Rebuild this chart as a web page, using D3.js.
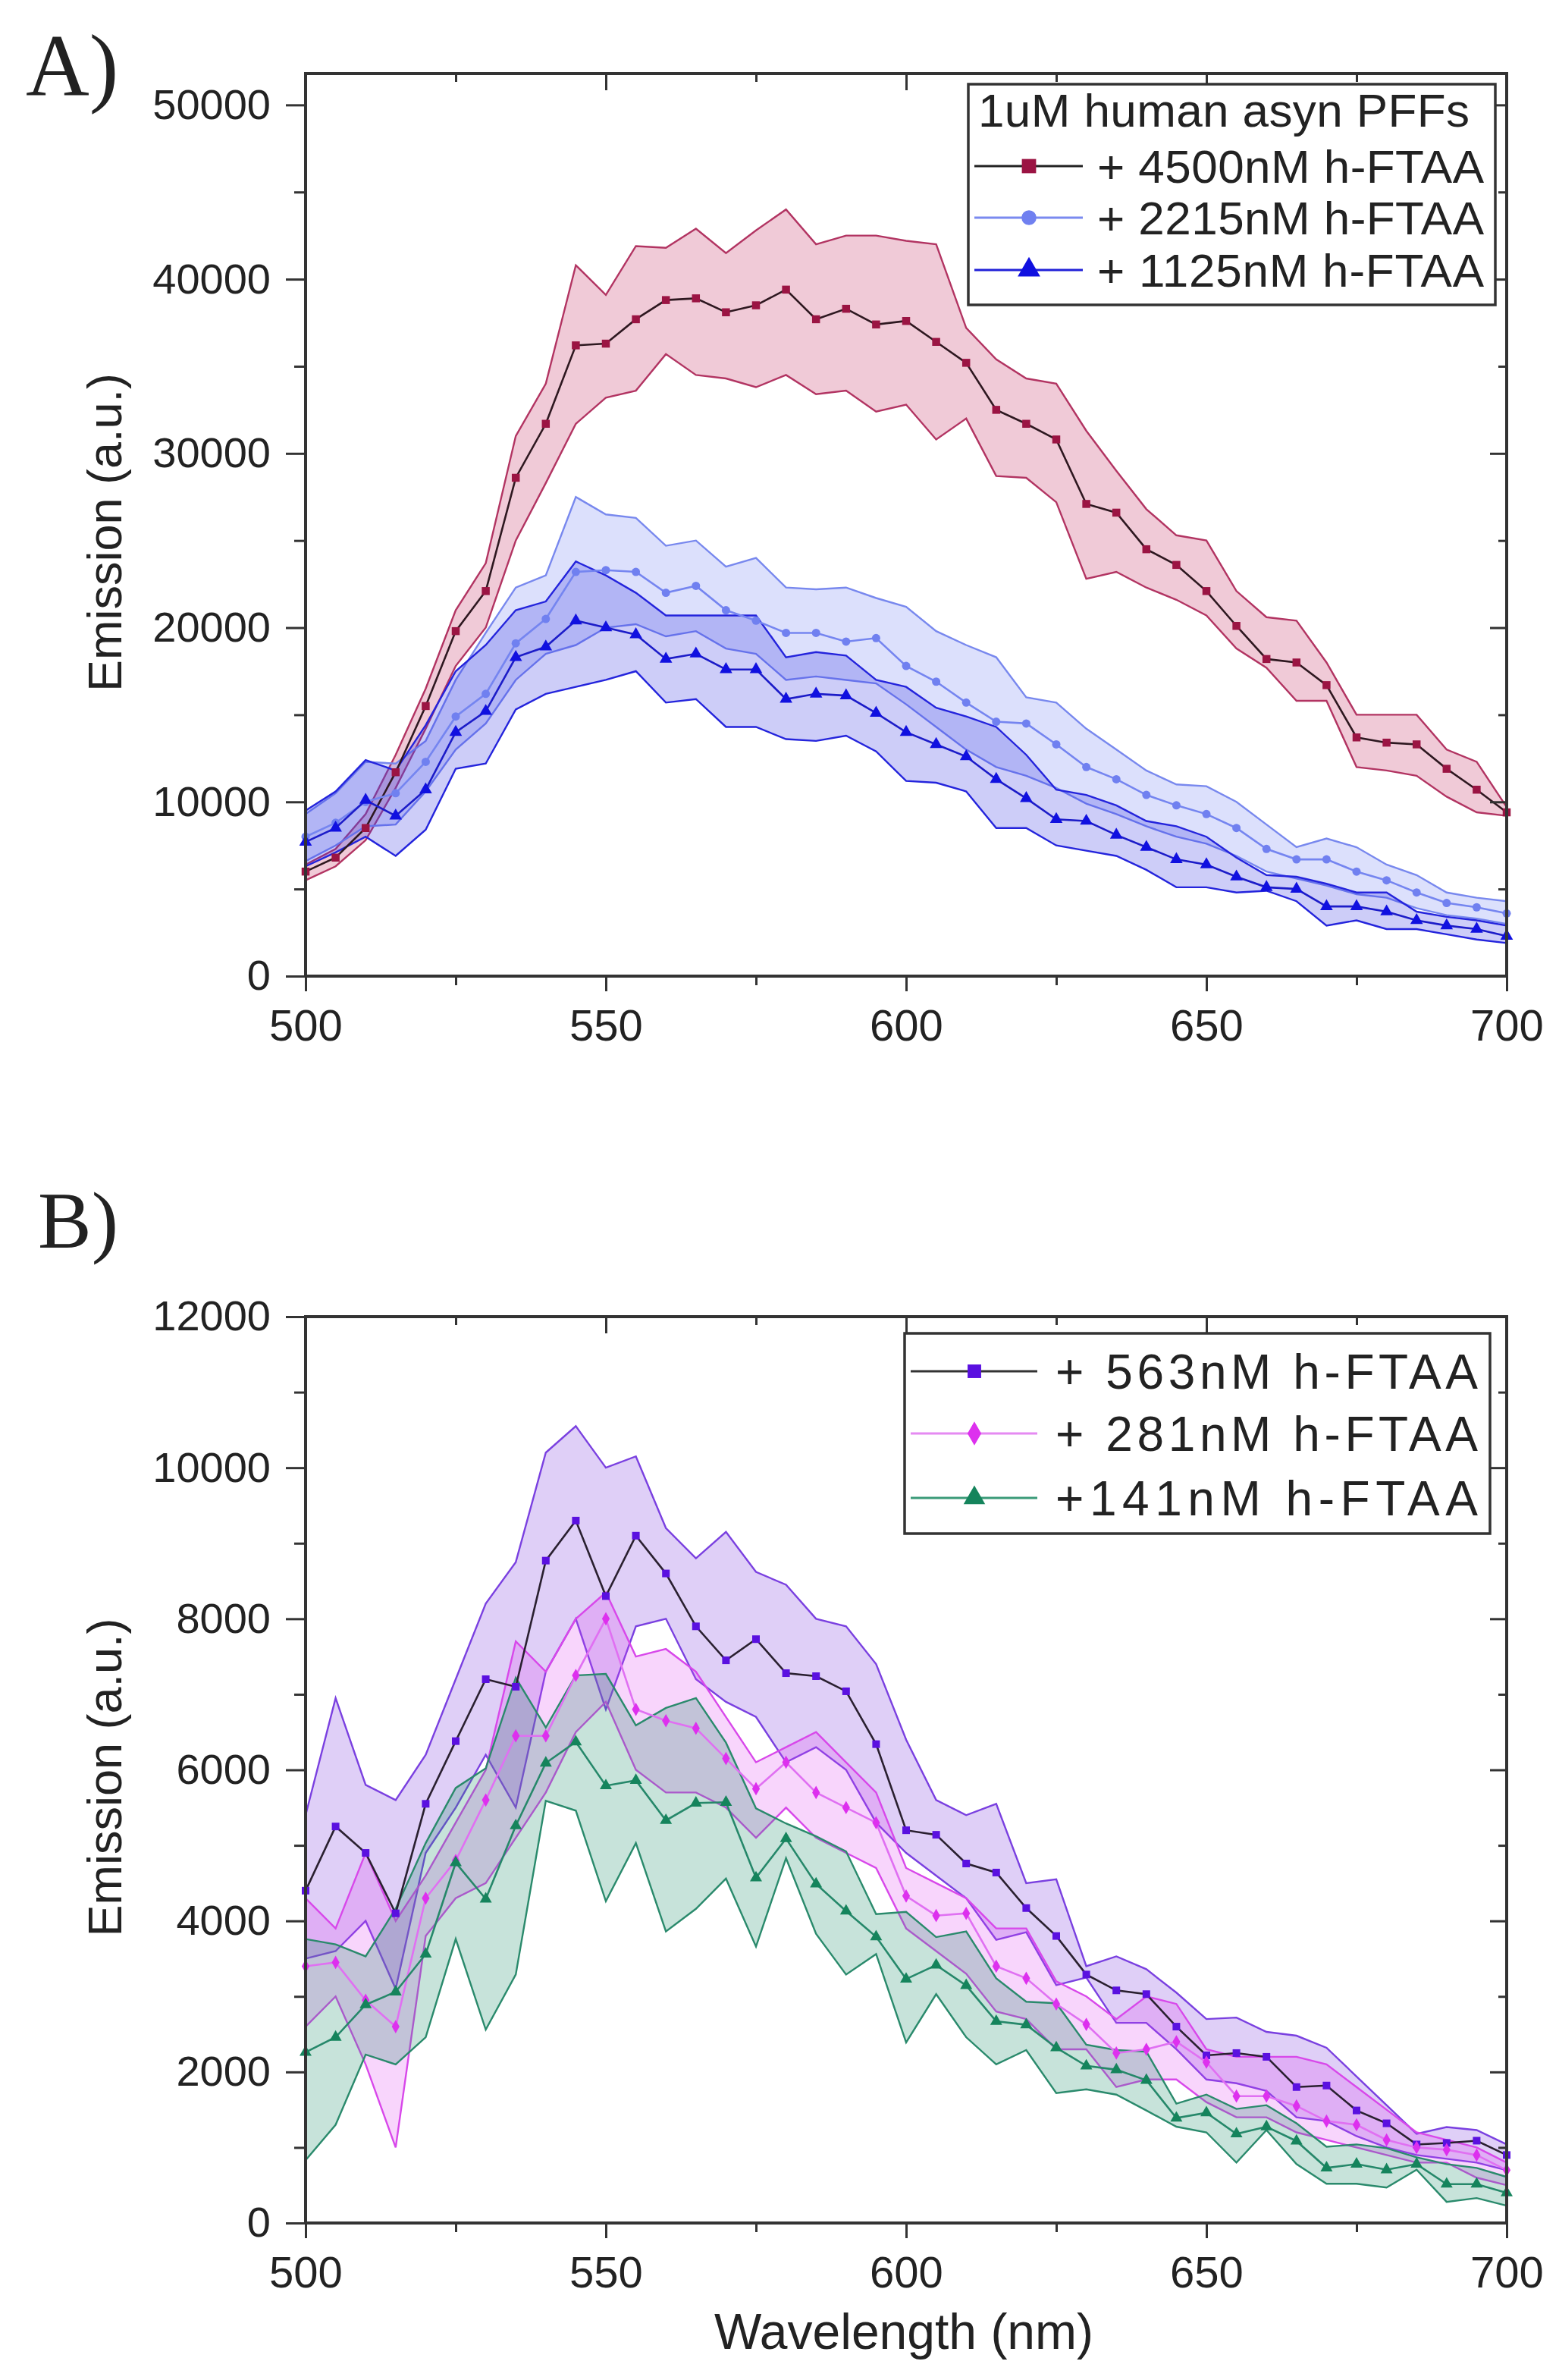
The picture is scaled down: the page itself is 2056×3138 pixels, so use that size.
<!DOCTYPE html>
<html>
<head>
<meta charset="utf-8">
<script src="https://cdnjs.cloudflare.com/ajax/libs/d3/7.8.5/d3.min.js"></script>
<style>
  body { margin: 0; background: #fff; }
  svg { display: block; }
  text { font-family: "Liberation Sans", Arial, sans-serif; fill: #222; }
</style>
</head>
<body>
<div id="chart"></div>
<script>
// wavelength (nm), shared by every series
const wavelength = [500, 505, 510, 515, 520, 525, 530, 535, 540, 545, 550, 555, 560, 565, 570, 575, 580, 585, 590, 595,
  600, 605, 610, 615, 620, 625, 630, 635, 640, 645, 650, 655, 660, 665, 670, 675, 680, 685, 690, 695, 700]

// panel A : 1uM human asyn PFFs
const a4500Mean = [6000, 6800, 8500, 11700, 15500, 19800, 22100, 28600, 31700, 36200, 36300, 37700, 38800, 38900, 38100, 38500, 39400, 37700, 38300, 37400,
  37600, 36400, 35200, 32500, 31700, 30800, 27100, 26600, 24500, 23600, 22100, 20100, 18200, 18000, 16700, 13700, 13400, 13300, 11900, 10700, 9400]
const a4500Upper = [6400, 7300, 9300, 12700, 16500, 21000, 23700, 31000, 34000, 40800, 39100, 41900, 41800, 42900, 41500, 42800, 44000, 42000, 42500, 42500,
  42200, 42000, 37200, 35400, 34300, 34000, 31300, 29000, 26800, 25300, 25000, 22100, 20600, 20400, 18000, 15000, 15000, 15000, 13000, 12300, 9700]
const a4500Lower = [5500, 6300, 7800, 10800, 14200, 17800, 20000, 25000, 28300, 31700, 33200, 33600, 35700, 34500, 34300, 33800, 34500, 33400, 33600, 32400,
  32800, 30800, 32000, 28700, 28600, 27200, 22800, 23200, 22300, 21600, 20700, 18800, 17700, 15800, 15800, 12000, 11800, 11500, 10300, 9400, 9200]

const a2215Mean = [8000, 8800, 10000, 10500, 12300, 14900, 16200, 19100, 20500, 23200, 23300, 23200, 22000, 22400, 21000, 20400, 19700, 19700, 19200, 19400,
  17800, 16900, 15700, 14600, 14500, 13300, 12000, 11300, 10400, 9800, 9300, 8500, 7300, 6700, 6700, 6000, 5500, 4800, 4200, 3950, 3600]
const a2215Upper = [9300, 10500, 12300, 12200, 13500, 17000, 19700, 22300, 23000, 27500, 26500, 26300, 24700, 25000, 23500, 24000, 22300, 22200, 22300, 21700,
  21200, 19800, 19000, 18300, 16000, 15700, 14200, 13000, 11800, 11000, 10900, 10000, 8700, 7400, 7900, 7400, 6400, 5800, 4800, 4500, 4300]
const a2215Lower = [6600, 7500, 8600, 8700, 10600, 13000, 14500, 17000, 18500, 19000, 20000, 20200, 19500, 19800, 18800, 18500, 17000, 17200, 17000, 16800,
  15600, 14300, 13000, 12000, 11500, 10800, 9900, 9300, 8600, 8000, 7600, 6900, 6000, 5600, 5200, 4700, 4500, 3900, 3500, 3300, 3000]

const a1125Mean = [7700, 8500, 10100, 9200, 10700, 14000, 15200, 18300, 18900, 20400, 20000, 19600, 18200, 18500, 17600, 17600, 15900, 16200, 16100, 15100,
  14000, 13300, 12600, 11300, 10200, 9000, 8900, 8100, 7400, 6700, 6400, 5700, 5100, 5000, 4000, 4000, 3700, 3200, 2900, 2700, 2300]
const a1125Upper = [9500, 10600, 12400, 11800, 14400, 17500, 19000, 21000, 21500, 23800, 23000, 22000, 20700, 20700, 20700, 20700, 18300, 18600, 18400, 17000,
  16600, 15400, 14900, 14300, 12700, 10700, 10400, 9800, 8900, 8600, 8000, 6800, 5800, 5700, 5300, 4800, 4800, 3700, 3400, 3200, 2900]
const a1125Lower = [6300, 7100, 8000, 6900, 8400, 11900, 12200, 15300, 16200, 16600, 17000, 17500, 15700, 15900, 14300, 14300, 13600, 13500, 13800, 12900,
  11200, 11100, 10600, 8500, 8500, 7500, 7200, 6900, 6100, 5100, 5100, 4800, 4900, 4300, 2900, 3200, 2700, 2700, 2400, 2100, 1900]

// panel B
const b563Mean = [4400, 5250, 4900, 4100, 5550, 6380, 7200, 7100, 8770, 9300, 8300, 9100, 8600, 7900, 7450, 7730, 7280, 7240, 7040, 6340,
  5200, 5140, 4760, 4640, 4170, 3800, 3290, 3080, 3030, 2600, 2220, 2250, 2200, 1800, 1820, 1490, 1320, 1040, 1060, 1090, 900]
const b563Upper = [5400, 6950, 5800, 5600, 6200, 7200, 8200, 8750, 10200, 10550, 10000, 10150, 9200, 8800, 9150, 8620, 8450, 8000, 7900, 7400,
  6400, 5600, 5400, 5550, 4500, 4550, 3400, 3530, 3360, 3050, 2700, 2720, 2530, 2480, 2320, 1940, 1560, 1180, 1270, 1230, 1040]
const b563Lower = [3500, 3600, 4000, 3100, 4900, 5500, 6200, 5500, 7300, 8000, 6800, 7900, 8000, 7200, 6900, 6700, 6100, 6300, 6000, 5300,
  4900, 4600, 4300, 3750, 3850, 3150, 3250, 2650, 2650, 2300, 1900, 1850, 1750, 1400, 1350, 1150, 1000, 900, 850, 800, 700]

const b281Mean = [3400, 3450, 2950, 2600, 4300, 4800, 5600, 6450, 6450, 7250, 8000, 6800, 6650, 6550, 6150, 5750, 6100, 5700, 5500, 5300,
  4330, 4070, 4100, 3400, 3240, 2900, 2630, 2250, 2300, 2400, 2130, 1680, 1680, 1550, 1350, 1300, 1100, 1000, 970, 900, 700]
const b281Upper = [4300, 3900, 4900, 4000, 4600, 5300, 6000, 7700, 7300, 8000, 8350, 7500, 7600, 7300, 6700, 6100, 6300, 6500, 6100, 5700,
  4700, 4500, 4300, 3900, 3900, 3200, 3000, 2700, 3000, 2900, 2300, 2200, 2200, 2200, 2100, 1800, 1500, 1200, 1100, 1000, 800]
const b281Lower = [2600, 3000, 2100, 1000, 3800, 4300, 4500, 5100, 5700, 6500, 6900, 6000, 5700, 5700, 5500, 5100, 5500, 5100, 4900, 4700,
  3900, 3600, 3300, 2800, 2700, 2300, 2300, 1800, 1900, 1900, 1600, 1400, 1400, 1200, 1100, 1000, 900, 800, 800, 600, 500]

const b141Mean = [2260, 2460, 2890, 3060, 3560, 4770, 4290, 5260, 6090, 6370, 5790, 5860, 5330, 5560, 5570, 4570, 5090, 4490, 4130, 3790,
  3230, 3415, 3145, 2670, 2625, 2320, 2080, 2030, 1890, 1390, 1460, 1180, 1275, 1085, 730, 780, 705, 780, 515, 515, 400]
const b141Upper = [3760, 3690, 3530, 4160, 5030, 5760, 6020, 7220, 6560, 7250, 7270, 6590, 6820, 6950, 6360, 5490, 5290, 5120, 4920, 4090,
  4120, 3785, 3860, 3240, 2930, 2910, 2360, 2290, 2270, 1580, 1700, 1510, 1560, 1320, 1010, 1040, 990, 870, 780, 730, 610]
const b141Lower = [830, 1300, 2230, 2100, 2460, 3760, 2560, 3290, 5590, 5460, 4260, 5030, 3860, 4160, 4560, 3660, 4830, 3830, 3290, 3560,
  2390, 3030, 2460, 2100, 2290, 1720, 1770, 1700, 1490, 1275, 1200, 800, 1230, 780, 520, 520, 470, 705, 280, 330, 230]

const xMajor = [500, 550, 600, 650, 700]
const xMinor = [525, 575, 625, 675]
const aYMajor = [0, 10000, 20000, 30000, 40000, 50000]
const aYMinor = [5000, 15000, 25000, 35000, 45000]
const bYMajor = [0, 2000, 4000, 6000, 8000, 10000, 12000]
const bYMinor = [1000, 3000, 5000, 7000, 9000, 11000]

const aLegendTitle = "1uM human asyn PFFs"
const aLabels = ["+ 4500nM h-FTAA", "+ 2215nM h-FTAA", "+ 1125nM h-FTAA"]
const bLabels = ["+ 563nM h-FTAA", "+ 281nM h-FTAA", "+141nM  h-FTAA"]

const W = 2056, H = 3138

let svg = d3.select("#chart").append("svg")
  .attr("width", W)
  .attr("height", H)
svg.append("rect").attr("width", W).attr("height", H).attr("fill", "#fff")

function drawPanel(p) {
  let g = svg.append("g")
  let x = d3.scaleLinear().domain([500, 700]).range([p.left, p.right])
  let y = d3.scaleLinear().domain([0, p.yMax]).range([p.bottom, p.top])

  // shaded bands first
  p.series.forEach(function(s) {
    let rows = wavelength.map(function(w, i) { return {w: w, m: s.mean[i], hi: s.upper[i], lo: s.lower[i]} })
    let area = d3.area()
      .x(function(d) { return x(d.w) })
      .y0(function(d) { return y(d.lo) })
      .y1(function(d) { return y(d.hi) })
    g.append("path").datum(rows)
      .attr("d", area)
      .attr("fill", s.fill)
      .attr("fill-opacity", s.fillOpacity)
    let edge = d3.line().x(function(d) { return x(d.w) })
    g.append("path").datum(rows)
      .attr("d", edge.y(function(d) { return y(d.hi) }))
      .attr("fill", "none").attr("stroke", s.edge).attr("stroke-width", 2.4)
    g.append("path").datum(rows)
      .attr("d", d3.line().x(function(d) { return x(d.w) }).y(function(d) { return y(d.lo) }))
      .attr("fill", "none").attr("stroke", s.edge).attr("stroke-width", 2.4)
    s.rows = rows
  })

  // mean lines + markers
  p.series.forEach(function(s) {
    g.append("path").datum(s.rows)
      .attr("d", d3.line().x(function(d) { return x(d.w) }).y(function(d) { return y(d.m) }))
      .attr("fill", "none")
      .attr("stroke", s.line)
      .attr("stroke-width", 2.6)
    g.selectAll(null)
      .data(s.rows)
      .enter().append("path")
      .attr("transform", function(d) { return "translate(" + x(d.w) + "," + y(d.m) + ")" })
      .attr("d", d3.symbol().type(s.symbol).size(s.size))
      .attr("fill", s.marker)
  })

  // axes
  let fmt = d3.format("d")
  let axL = g.append("g").attr("transform", "translate(" + p.left + ",0)")
    .call(d3.axisLeft(y).tickValues(p.yMajor).tickSize(26).tickPadding(20).tickFormat(fmt))
  g.append("g").attr("transform", "translate(" + p.left + ",0)")
    .call(d3.axisLeft(y).tickValues(p.yMinor).tickSize(15).tickFormat(""))
  let axB = g.append("g").attr("transform", "translate(0," + p.bottom + ")")
    .call(d3.axisBottom(x).tickValues(xMajor).tickSize(20).tickPadding(24).tickFormat(fmt))
  g.append("g").attr("transform", "translate(0," + p.bottom + ")")
    .call(d3.axisBottom(x).tickValues(xMinor).tickSize(12).tickFormat(""))
  g.append("g").attr("transform", "translate(0," + p.top + ")")
    .call(d3.axisTop(x).tickValues(xMajor).tickSize(-22).tickFormat(""))
  g.append("g").attr("transform", "translate(0," + p.top + ")")
    .call(d3.axisTop(x).tickValues(xMinor).tickSize(-11).tickFormat(""))
  g.append("g").attr("transform", "translate(" + p.right + ",0)")
    .call(d3.axisRight(y).tickValues(p.yMajor).tickSize(-22).tickFormat(""))
  g.append("g").attr("transform", "translate(" + p.right + ",0)")
    .call(d3.axisRight(y).tickValues(p.yMinor).tickSize(-11).tickFormat(""))

  g.selectAll(".domain").remove()
  g.selectAll(".tick line").attr("stroke", "#333").attr("stroke-width", 3)
  axL.selectAll("text").style("font-size", "56px").attr("fill", "#222")
    .style("font-family", "'Liberation Sans', Arial, sans-serif")
  axB.selectAll("text").style("font-size", "58px").attr("fill", "#222")
    .style("font-family", "'Liberation Sans', Arial, sans-serif")

  g.append("rect")
    .attr("x", p.left).attr("y", p.top)
    .attr("width", p.right - p.left).attr("height", p.bottom - p.top)
    .attr("fill", "none").attr("stroke", "#333").attr("stroke-width", 4)

  // y title
  g.append("text")
    .attr("transform", "translate(160," + ((p.top + p.bottom) / 2 + 10) + ") rotate(-90)")
    .attr("text-anchor", "middle")
    .style("font-size", "63px")
    .text("Emission (a.u.)")

  // panel letter
  g.append("text")
    .attr("x", p.letterX).attr("y", p.letterY)
    .style("font-family", "'Liberation Serif', 'Times New Roman', serif")
    .style("font-size", p.letterSize + "px")
    .attr("fill", "#111")
    .text(p.letter)

  // legend
  let lg = p.legend
  g.append("rect")
    .attr("x", lg.x).attr("y", lg.y).attr("width", lg.w).attr("height", lg.h)
    .attr("fill", "#fff").attr("stroke", "#333").attr("stroke-width", 3.5)
  if (lg.title) {
    g.append("text")
      .attr("x", lg.titleX).attr("y", lg.titleY)
      .attr("textLength", lg.titleLen).attr("lengthAdjust", "spacing")
      .style("font-size", lg.font + "px")
      .text(lg.title)
  }
  p.series.forEach(function(s, i) {
    let cy = lg.rowY[i]
    g.append("line")
      .attr("x1", lg.lineX1).attr("x2", lg.lineX2)
      .attr("y1", cy).attr("y2", cy)
      .attr("stroke", s.legendLine).attr("stroke-width", 3)
    g.append("path")
      .attr("transform", "translate(" + lg.markX + "," + cy + ")")
      .attr("d", d3.symbol().type(s.symbol).size(s.size * 3.2))
      .attr("fill", s.marker)
    g.append("text")
      .attr("x", lg.textX).attr("y", cy + lg.font * 0.36)
      .attr("textLength", lg.textLen).attr("lengthAdjust", "spacing")
      .style("font-size", lg.font + "px")
      .text(lg.labels[i])
  })
}

drawPanel({
  left: 403, right: 1987, top: 97, bottom: 1287, yMax: 51800,
  yMajor: aYMajor, yMinor: aYMinor,
  letter: "A)", letterX: 34, letterY: 126, letterSize: 116,
  series: [
    {mean: a4500Mean, upper: a4500Upper, lower: a4500Lower, fill: "#c83a6a", fillOpacity: 0.27, edge: "#b23462",
      line: "#2e1820", marker: "#9b1443", legendLine: "#222", symbol: d3.symbolSquare, size: 110},
    {mean: a2215Mean, upper: a2215Upper, lower: a2215Lower, fill: "#6070f0", fillOpacity: 0.22, edge: "#7888ee",
      line: "#7585f0", marker: "#7080f0", legendLine: "#7a8af0", symbol: d3.symbolCircle, size: 95},
    {mean: a1125Mean, upper: a1125Upper, lower: a1125Lower, fill: "#3030e0", fillOpacity: 0.24, edge: "#2424dc",
      line: "#1c1cc8", marker: "#1010e0", legendLine: "#2020d8", symbol: d3.symbolTriangle, size: 120}
  ],
  legend: {
    x: 1277, y: 111, w: 695, h: 291, font: 62,
    title: aLegendTitle, titleX: 1290, titleY: 167, titleLen: 648,
    rowY: [219, 287, 356], lineX1: 1285, lineX2: 1428, markX: 1357,
    textX: 1447, textLen: 510, labels: aLabels
  }
})

drawPanel({
  left: 403, right: 1987, top: 1736, bottom: 2931, yMax: 12000,
  yMajor: bYMajor, yMinor: bYMinor,
  letter: "B)", letterX: 50, letterY: 1645, letterSize: 106,
  series: [
    {mean: b563Mean, upper: b563Upper, lower: b563Lower, fill: "#8040e0", fillOpacity: 0.25, edge: "#7a40e0",
      line: "#2a2030", marker: "#5a10e0", legendLine: "#333", symbol: d3.symbolSquare, size: 100},
    {mean: b281Mean, upper: b281Upper, lower: b281Lower, fill: "#e040f0", fillOpacity: 0.22, edge: "#d848ea",
      line: "#e070f2", marker: "#dd30ee", legendLine: "#e58af2", symbol: d3.symbolDiamond, size: 90},
    {mean: b141Mean, upper: b141Upper, lower: b141Lower, fill: "#20906a", fillOpacity: 0.25, edge: "#2a8a6c",
      line: "#26886a", marker: "#15845c", legendLine: "#3a9a78", symbol: d3.symbolTriangle, size: 110}
  ],
  legend: {
    x: 1193, y: 1758, w: 772, h: 264, font: 64,
    title: null,
    rowY: [1808, 1890, 1975], lineX1: 1201, lineX2: 1368, markX: 1285,
    textX: 1392, textLen: 557, labels: bLabels
  }
})

// x title, only under the lower panel
svg.append("text")
  .attr("x", 1192).attr("y", 3097)
  .attr("text-anchor", "middle")
  .style("font-size", "66px")
  .text("Wavelength (nm)")
</script>
</body>
</html>
